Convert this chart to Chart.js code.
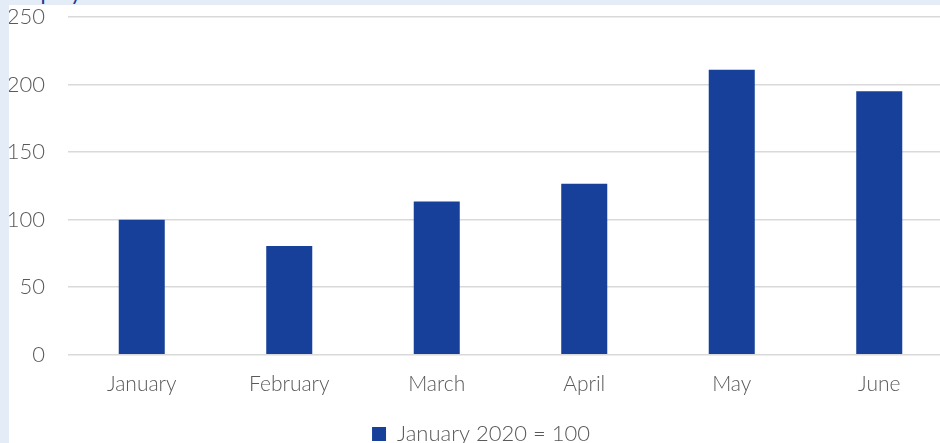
<!DOCTYPE html>
<html>
<head>
<meta charset="utf-8">
<script src="https://cdn.jsdelivr.net/npm/chart.js@4"></script>
<style>
  html, body { margin: 0; padding: 0; overflow: hidden; }
  body { background: #e4ecf8; width: 940px; height: 443px; position: relative; }
  #title { position: absolute; left: 10px; top: -20px; font-family: Lato, sans-serif; font-size: 22px; color: #1d3a94; line-height: 24px; white-space: nowrap; }
  #wrap { position: absolute; left: 9px; top: 5px; width: 944px; height: 438px; background: #fff; }
</style>
</head>
<body>
<div id="title">Employment</div>
<div id="wrap"><canvas id="chart"></canvas></div>
<script>
const months = ['January', 'February', 'March', 'April', 'May', 'June'];
const indexValues = [100, 80.5, 113.5, 126.5, 211, 195];
const seriesName = 'January 2020 = 100';
const yTicks = [0, 50, 100, 150, 200, 250];

const ctx = document.getElementById('chart').getContext('2d');
const grey = '#595959';
const font = 'Lato, sans-serif';

new Chart(ctx, {
    type: 'bar',
    data: {
        labels: months,
        datasets: [{
            label: seriesName,
            data: indexValues,
            backgroundColor: '#16409a',
            categoryPercentage: 1,
            barPercentage: 0.312
        }]
    },
    options: {
        responsive: true,
        maintainAspectRatio: false,
        animation: false,
        layout: { padding: { top: 0, left: 0, right: 0, bottom: -12 } },
        scales: {
            x: {
                grid: { display: false },
                border: { display: false },
                ticks: { color: grey, font: { family: font, size: 21, weight: 300 }, padding: 9 }
            },
            y: {
                min: 0,
                max: 250,
                afterBuildTicks: function(axis) {
                    axis.ticks = yTicks.map(v => ({ value: v }));
                },
                afterFit: function(axis) {
                    // keep the wide label gap without pushing the plot down
                    axis.width = 59;
                    axis.paddingTop = 12;
                    axis.paddingBottom = 10;
                },
                grid: { color: '#d9d9d9', lineWidth: 1.5, drawTicks: false },
                border: { display: false },
                ticks: { color: grey, font: { family: font, size: 22, weight: 300 }, padding: 23 }
            }
        },
        plugins: {
            legend: {
                position: 'bottom',
                labels: {
                    color: grey,
                    font: { family: font, size: 22, weight: 300 },
                    boxWidth: 14,
                    boxHeight: 14,
                    padding: 17
                }
            },
            tooltip: { enabled: false }
        }
    }
});
</script>
</body>
</html>
